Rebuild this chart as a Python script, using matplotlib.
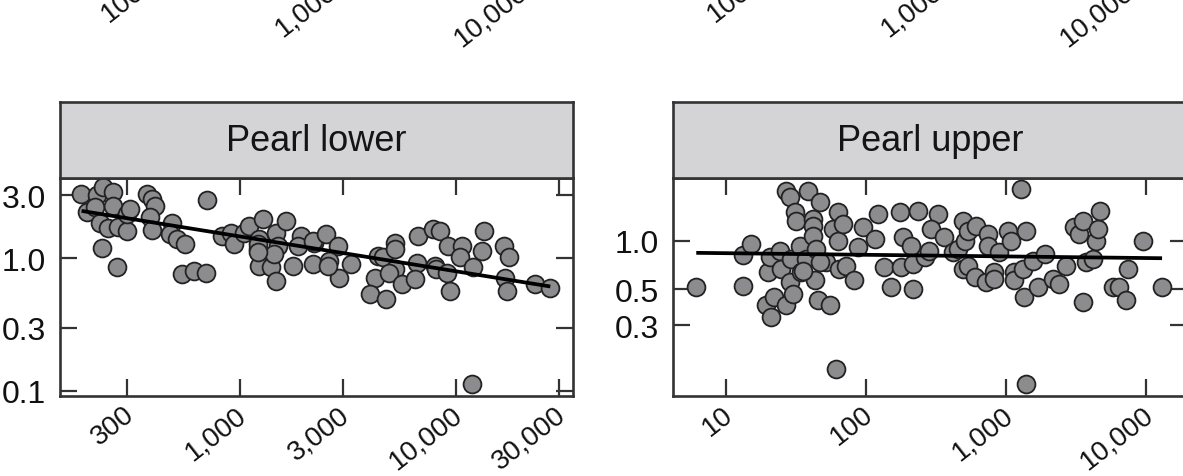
import matplotlib
matplotlib.use("Agg")
import matplotlib.pyplot as plt
from matplotlib.transforms import ScaledTranslation

plt.rcParams['font.family'] = ['Liberation Sans', 'DejaVu Sans']

# ---- Pearl lower ----
lower_x = [184, 217, 233, 260, 195, 214, 260, 225, 246, 274, 300, 300, 311, 230, 269,
           372, 392, 406, 385, 392, 486, 477, 512, 560, 541, 612, 694, 701, 829, 907,
           940, 1045, 1103, 1274, 1228, 1208, 1228, 1392, 1469, 1469, 1635, 1496, 1443,
           1755, 1918, 1853, 2175, 2212, 1208, 1208, 2175, 2506, 2844, 2600, 2891, 3282,
           4210, 3990, 4365, 2547, 4775, 4600, 5210, 5210, 5210, 4900, 5610, 6590, 6470,
           6700, 7870, 8440, 8000, 8100, 9060, 9390, 9230, 10650, 10450, 11860, 12070,
           13190, 13440, 16640, 17550, 16950, 17260, 23360, 27420]
lower_y = [3.07, 3.0, 3.45, 3.16, 2.23, 2.43, 2.48, 1.87, 1.70, 1.72, 1.62, 2.17, 2.36, 1.21, 0.855,
           3.07, 2.81, 2.50, 2.05, 1.64, 1.87, 1.53, 1.40, 1.28, 0.76, 0.805, 0.78, 2.78, 1.48, 1.57,
           1.28, 1.57, 1.77, 1.99, 1.40, 1.18, 0.88, 0.855, 0.676, 1.57, 1.93, 1.25, 1.08,
           0.88, 1.48, 1.25, 0.905, 1.32, 1.28, 1.11, 1.36, 1.53, 1.25, 0.96, 0.718, 0.905,
           0.718, 0.537, 1.05, 0.88, 0.492, 1.02, 1.32, 1.18, 0.83, 0.78, 0.64, 0.93, 0.70,
           1.48, 1.67, 1.62, 0.88, 0.83, 0.78, 0.569, 1.25, 1.25, 1.02, 0.112, 0.855,
           1.14, 1.62, 1.25, 1.02, 0.718, 0.569, 0.64, 0.603]
lower_fit_x = [185, 27400]
lower_fit_y = [2.29, 0.614]

# ---- Pearl upper ----
upper_x = [6.1, 13.1, 15.1, 13.1, 19.3, 21, 22.1, 19.8, 20.4, 24, 24.7, 26.8, 28.3, 29.1, 29.9,
           26.8, 28.3, 30.8, 31.6, 33.4, 34.3, 38.3, 46.4, 41.6, 41.6, 41.6, 37.3, 44, 42.8,
           45.1, 54.7, 51.8, 57.8, 62.7, 62.7, 68.1, 64.4, 71.9, 82.4, 87, 94.6, 115, 121,
           135, 151, 61.1, 46.4, 35.2, 173, 234, 325, 182, 209, 178, 215, 215, 261, 283, 291,
           362, 416, 451, 490, 504, 532, 490, 532, 594, 611, 740, 740, 720, 825, 825, 895,
           1026, 1086, 1146, 1146, 1315, 1389, 1280, 1352, 1389, 1550, 1682, 1879, 2155,
           2404, 2685, 3077, 3340, 3530, 3726, 4160, 3530, 4395, 4520, 4645, 5780, 6440,
           7390, 7190, 9460, 13000]
upper_y = [0.515, 0.81, 0.955, 0.527, 0.397, 0.336, 0.448, 0.638, 0.79, 0.868, 0.669, 0.397, 0.553, 0.77, 0.469,
           2.04, 1.85, 1.50, 1.33, 0.93, 0.638, 2.04, 1.73, 1.36, 1.24, 1.07, 0.77, 0.889, 0.567,
           0.426, 0.397, 0.736, 1.18, 1.50, 1.0, 1.27, 0.669, 0.70, 0.567, 0.91, 1.21, 1.02, 1.46,
           0.685, 0.515, 0.161, 0.736, 0.653, 1.50, 1.53, 1.46, 1.05, 0.93, 0.685, 0.718, 0.503, 0.79, 0.868, 1.18,
           1.05, 0.848, 0.889, 1.33, 1.0, 1.15, 0.669, 0.70, 0.594, 1.24, 1.10, 0.93, 0.553, 0.638, 0.58, 0.848,
           1.15, 1.0, 0.638, 0.567, 0.669, 1.15, 2.08, 0.448, 0.13, 0.753, 0.515, 0.828, 0.58,
           0.541, 0.70, 1.21, 1.10, 1.33, 0.736, 0.77, 0.417, 1.0, 1.18, 1.53, 0.515, 0.515,
           0.669, 0.426, 1.0, 0.515]
upper_fit_x = [6.1, 13000]
upper_fit_y = [0.84, 0.778]

# tick labels of the row of panels above, cut off by the top edge
above_ticks = [100, 1000, 10000]
above_labels = ['100', '1,000', '10,000']

panels = [
    dict(name='Pearl lower', x=lower_x, y=lower_y, fx=lower_fit_x, fy=lower_fit_y,
         xlim=(147, 34900), ylim=(0.092, 4.04),
         xticks=[300, 1000, 3000, 10000, 30000],
         xlabels=['300', '1,000', '3,000', '10,000', '30,000'],
         yticks=[0.1, 0.3, 1.0, 3.0], ylabels=['0.1', '0.3', '1.0', '3.0'],
         left=60, right=573, top_left=60),
    dict(name='Pearl upper', x=upper_x, y=upper_y, fx=upper_fit_x, fy=upper_fit_y,
         xlim=(4.16, 19600), ylim=(0.11, 2.43),
         xticks=[10, 100, 1000, 10000],
         xlabels=['10', '100', '1,000', '10,000'],
         yticks=[0.3, 0.5, 1.0], ylabels=['0.3', '0.5', '1.0'],
         left=673, right=1187, top_left=666),
]

W, H = 1183, 477
fig = plt.figure(figsize=(W / 100, H / 100), dpi=100)


def box(x0, y0, x1, y1):
    return [x0 / W, 1 - y1 / H, (x1 - x0) / W, (y1 - y0) / H]


edge = '#333333'
ink = '#111111'


def rotate_labels(ax, dx):
    shift = ScaledTranslation(dx / 100, 0, fig.dpi_scale_trans)
    for lab in ax.get_xticklabels():
        lab.set_rotation(38)
        lab.set_ha('right')
        lab.set_va('top')
        lab.set_transform(lab.get_transform() + shift)


for p in panels:
    ax = fig.add_axes(box(p['left'], 179.3, p['right'], 396.5))
    ax.set_xscale('log')
    ax.set_yscale('log')
    ax.scatter(p['x'], p['y'], s=165, c='#8c8c8e', edgecolors='#222222',
               linewidths=1.3, zorder=3)
    ax.plot(p['fx'], p['fy'], color='black', lw=2.7, zorder=4,
            solid_capstyle='butt')
    ax.set_xlim(*p['xlim'])
    ax.set_ylim(*p['ylim'])
    ax.minorticks_off()
    ax.set_xticks(p['xticks'], p['xlabels'])
    ax.set_yticks(p['yticks'], p['ylabels'])
    ax.tick_params(which='both', direction='in', length=12, width=1.6,
                   color=edge, top=True, right=True, labelcolor=ink)
    ax.tick_params(axis='x', pad=4, labelsize=20)
    ax.tick_params(axis='y', pad=10, labelsize=23)
    rotate_labels(ax, 12)
    for s in ax.spines.values():
        s.set_color(edge)
        s.set_linewidth(1.9)

    # strip header
    st = fig.add_axes(box(p['left'], 103, p['right'], 179.3))
    st.set_facecolor('#d4d4d6')
    st.set_xticks([])
    st.set_yticks([])
    for s in st.spines.values():
        s.set_color(edge)
        s.set_linewidth(1.9)
    st.text(0.5, 0.5, p['name'], ha='center', va='center', fontsize=26,
            color='#141414', transform=st.transAxes)

    up = fig.add_axes(box(p['top_left'], -140, p['top_left'] + 513, -42))
    up.set_xscale('log')
    up.set_xlim(38.8, 18200)
    up.minorticks_off()
    up.set_xticks(above_ticks, above_labels)
    up.set_yticks([])
    up.patch.set_visible(False)
    for s in up.spines.values():
        s.set_visible(False)
    up.tick_params(axis='x', length=0, labelsize=20, pad=15, labelcolor=ink)
    rotate_labels(up, 10)

fig.savefig('out.png', dpi=100)
